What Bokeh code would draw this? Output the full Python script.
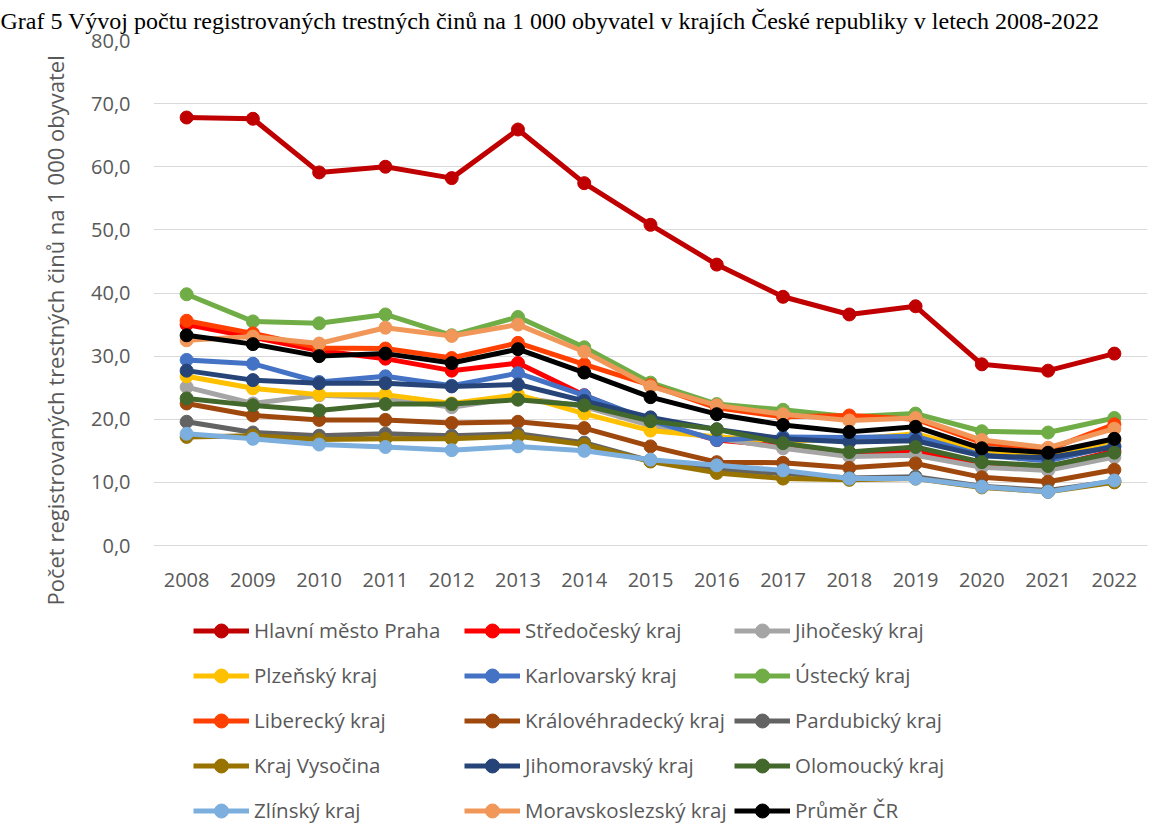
from bokeh.plotting import figure
from bokeh.models import Range1d, FixedTicker, Legend, LegendItem, Title
from bokeh.embed import file_html
from bokeh.resources import INLINE

years = list(range(2008, 2023))
y_ticks = [0, 10, 20, 30, 40, 50, 60, 70, 80]
y_tick_labels = ["0,0", "10,0", "20,0", "30,0", "40,0", "50,0", "60,0", "70,0", "80,0"]

title_text = "Graf 5 Vývoj počtu registrovaných trestných činů na 1 000 obyvatel v krajích České republiky v letech 2008-2022"
y_title = "Počet registrovaných trestných činů na 1 000 obyvatel"

names = ["Hlavní město Praha", "Středočeský kraj", "Jihočeský kraj", "Plzeňský kraj",
         "Karlovarský kraj", "Ústecký kraj", "Liberecký kraj", "Královéhradecký kraj",
         "Pardubický kraj", "Kraj Vysočina", "Jihomoravský kraj", "Olomoucký kraj",
         "Zlínský kraj", "Moravskoslezský kraj", "Průměr ČR"]

praha = [67.8, 67.6, 59.1, 60.0, 58.2, 65.9, 57.4, 50.8, 44.5, 39.4, 36.6, 37.9, 28.7, 27.7, 30.4]
stredocesky = [35.0, 33.0, 30.9, 29.6, 27.7, 28.9, 23.8, 19.6, 16.7, 15.8, 14.6, 14.9, 13.0, 12.4, 15.0]
jihocesky = [25.1, 22.5, 23.8, 23.4, 21.9, 23.5, 22.0, 19.0, 17.0, 15.4, 14.1, 14.3, 12.4, 11.9, 14.0]
plzensky = [26.8, 24.9, 23.9, 23.9, 22.5, 23.9, 20.9, 18.2, 17.2, 16.6, 16.8, 17.7, 15.0, 14.3, 16.5]
karlovarsky = [29.4, 28.8, 25.9, 26.8, 25.3, 27.3, 23.8, 19.8, 16.7, 17.2, 17.1, 17.3, 14.3, 13.4, 15.8]
ustecky = [39.8, 35.5, 35.2, 36.6, 33.3, 36.2, 31.4, 25.8, 22.4, 21.5, 20.4, 20.9, 18.1, 17.9, 20.2]
liberecky = [35.6, 33.6, 31.3, 31.2, 29.7, 32.1, 28.7, 25.4, 21.8, 20.4, 20.6, 20.0, 16.3, 15.2, 19.2]
kralovehradecky = [22.5, 20.6, 19.9, 19.9, 19.4, 19.6, 18.6, 15.7, 13.2, 13.1, 12.3, 13.0, 10.8, 10.1, 12.0]
pardubicky = [19.6, 17.9, 17.4, 17.7, 17.4, 17.7, 16.3, 13.4, 12.0, 11.4, 10.7, 10.9, 9.4, 8.7, 10.2]
vysocina = [17.2, 17.4, 16.8, 16.9, 16.9, 17.3, 16.0, 13.3, 11.5, 10.6, 10.4, 10.6, 9.2, 8.5, 10.0]
jihomoravsky = [27.7, 26.2, 25.7, 25.7, 25.2, 25.5, 22.9, 20.3, 18.4, 16.9, 16.4, 16.6, 14.2, 13.9, 15.6]
olomoucky = [23.3, 22.2, 21.4, 22.4, 22.4, 23.1, 22.2, 19.7, 18.4, 16.2, 14.8, 15.6, 13.2, 12.6, 14.7]
zlinsky = [17.7, 16.9, 16.0, 15.6, 15.1, 15.7, 15.0, 13.6, 12.7, 11.9, 10.6, 10.6, 9.3, 8.5, 10.3]
moravskoslezsky = [32.5, 33.1, 32.0, 34.5, 33.2, 35.0, 30.7, 25.2, 22.2, 20.8, 19.8, 20.2, 16.7, 15.5, 18.5]
prumer = [33.3, 31.9, 30.0, 30.4, 28.9, 31.1, 27.4, 23.5, 20.8, 19.1, 18.0, 18.8, 15.4, 14.7, 16.9]

series = [praha, stredocesky, jihocesky, plzensky, karlovarsky, ustecky, liberecky,
          kralovehradecky, pardubicky, vysocina, jihomoravsky, olomoucky, zlinsky,
          moravskoslezsky, prumer]
colors = ["#C00000", "#FF0000", "#A5A5A5", "#FFC000", "#4472C4", "#70AD47", "#FF4000",
          "#9E480E", "#636363", "#997300", "#264478", "#43682B", "#7CAFDD", "#F1975A", "#000000"]

FONT = "Open Sans"
TXT = "#595959"

# plot area: 0..80 occupies the upper 505 px of a frame that reaches the bottom edge,
# so the legend (drawn inside the frame) is not clipped
Y_MIN = -292 * 80 / 505

p = figure(width=1164, height=837, output_backend="svg", toolbar_location=None,
           x_range=Range1d(2007.5, 2022.5), y_range=Range1d(Y_MIN, 80),
           min_border_left=153, min_border_right=17, min_border_top=40, min_border_bottom=0)
p.outline_line_color = None
p.background_fill_color = "white"
p.border_fill_color = "white"

p.title.text = title_text
p.title.text_font = "Liberation Serif"
p.title.text_font_size = "24px"
p.title.text_font_style = "normal"
p.title.text_color = "#000000"
p.title.align = "left"
p.title.offset = -153
p.title.vertical_align = "top"
p.title.standoff = 10

p.xgrid.grid_line_color = None
p.ygrid.grid_line_color = "#D9D9D9"
p.ygrid.grid_line_width = 1
p.ygrid.ticker = FixedTicker(ticks=y_ticks)

p.yaxis.ticker = FixedTicker(ticks=y_ticks)
p.yaxis.major_label_overrides = {t: l for t, l in zip(y_ticks, y_tick_labels)}
p.xaxis.ticker = FixedTicker(ticks=years)
p.xaxis.major_label_overrides = {y: str(y) for y in years}
p.xaxis.fixed_location = 0
for ax in (p.xaxis, p.yaxis):
    ax.axis_line_color = None
    ax.major_tick_line_color = None
    ax.minor_tick_line_color = None
    ax.major_tick_out = 0
    ax.major_tick_in = 0
    ax.major_label_text_font = FONT
    ax.major_label_text_font_size = "20px"
    ax.major_label_text_color = TXT
p.yaxis.major_label_standoff = 23
p.xaxis.major_label_standoff = 27

ytitle = Title(text=y_title, align="left", offset=232, standoff=38,
               text_font=FONT, text_font_size="22px", text_font_style="normal",
               text_color=TXT)
p.add_layout(ytitle, "left")

items = []
for name, vals, col in zip(names, series, colors):
    r1 = p.line(years, vals, line_color=col, line_width=5)
    r2 = p.scatter(years, vals, marker="circle", size=13, fill_color=col, line_color=col)
    items.append(LegendItem(label=name, renderers=[r1, r2]))

col_x = [40, 311, 581]
for c in range(3):
    its = [items[r * 3 + c] for r in range(5)]
    lg = Legend(items=its, location=(col_x[c], 9.5), orientation="vertical",
                glyph_width=56, glyph_height=35, label_height=20, spacing=10,
                label_standoff=5, padding=0, margin=0,
                border_line_color=None, background_fill_alpha=0,
                label_text_font=FONT, label_text_font_size="20.5px", label_text_color=TXT)
    p.add_layout(lg, "center")

open("out.html", "w").write(file_html(p, INLINE))
